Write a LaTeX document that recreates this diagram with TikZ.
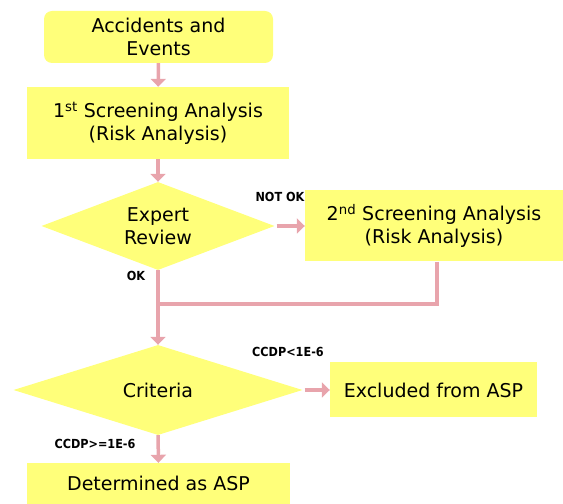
\documentclass[tikz,border=0pt]{standalone}
\usepackage{fontspec}
\setmainfont{DejaVu Sans}
\newfontfamily\tagfont{DejaVu Sans Condensed}
\usetikzlibrary{shapes.geometric,arrows.meta}
\definecolor{boxfill}{RGB}{255,255,122}
\definecolor{flowpink}{RGB}{232,164,172}
\begin{document}
\begin{tikzpicture}[x=1pt,y=1pt,
		box/.style={fill=boxfill,inner sep=0pt,align=center,font=\fontsize{19}{23}\selectfont},
		decision/.style={diamond,fill=boxfill,inner sep=0pt,align=center,font=\fontsize{19}{23}\selectfont},
		flow/.style={draw=flowpink,line width=3.5pt,-{Triangle[length=8pt,width=15pt]}},
		backline/.style={draw=flowpink,line width=3.5pt},
		tag/.style={font=\tagfont\bfseries\fontsize{12.5}{12.5}\selectfont,inner sep=0pt}]
		\useasboundingbox (0,0) rectangle (563,504);
		\node[box,rounded corners=8pt,minimum width=229pt,minimum height=52pt] (events) at (158.5,467) {Accidents and\\Events};
		\node[box,minimum width=262pt,minimum height=72pt] (first) at (158,381) {1\textsuperscript{st} Screening Analysis\\(Risk Analysis)};
		\node[decision,aspect=2.65,minimum width=233pt,minimum height=88pt] (expert) at (158,278) {Expert\\Review};
		\node[box,minimum width=258pt,minimum height=71pt] (second) at (434,278) {2\textsuperscript{nd} Screening Analysis\\(Risk Analysis)};
		\node[decision,aspect=3.2,minimum width=289pt,minimum height=90pt] (criteria) at (158,114) {Criteria};
		\node[box,minimum width=207pt,minimum height=55pt] (excluded) at (433.5,114) {Excluded from ASP};
		\node[box,minimum width=263pt,minimum height=41pt] (determined) at (158.5,20.5) {Determined as ASP};
		\coordinate (merge) at (158,200);
		
		\draw[flow] (expert.east) ++(2,0) -- (second.west);
		\draw[flow] (events) -- (first);
		\draw[flow] (first) -- (expert);
		\draw[flow] (expert.south) -- (criteria.north);
		\draw[backline] (second.south -| 437,0) |- (merge);
		\draw[flow] (criteria.east) ++(2,0) -- (excluded.west);
		\draw[flow] (criteria.south) -- (determined.north);
		
		\node[tag] (notok) at (280,307) {NOT OK};
		\node[tag] (ok) at (136,228) {OK};
		\node[tag] (below) at (288,152) {CCDP<1E-6};
		\node[tag] (above) at (95,60) {CCDP>=1E-6};
		
		\end{tikzpicture}
\end{document}
